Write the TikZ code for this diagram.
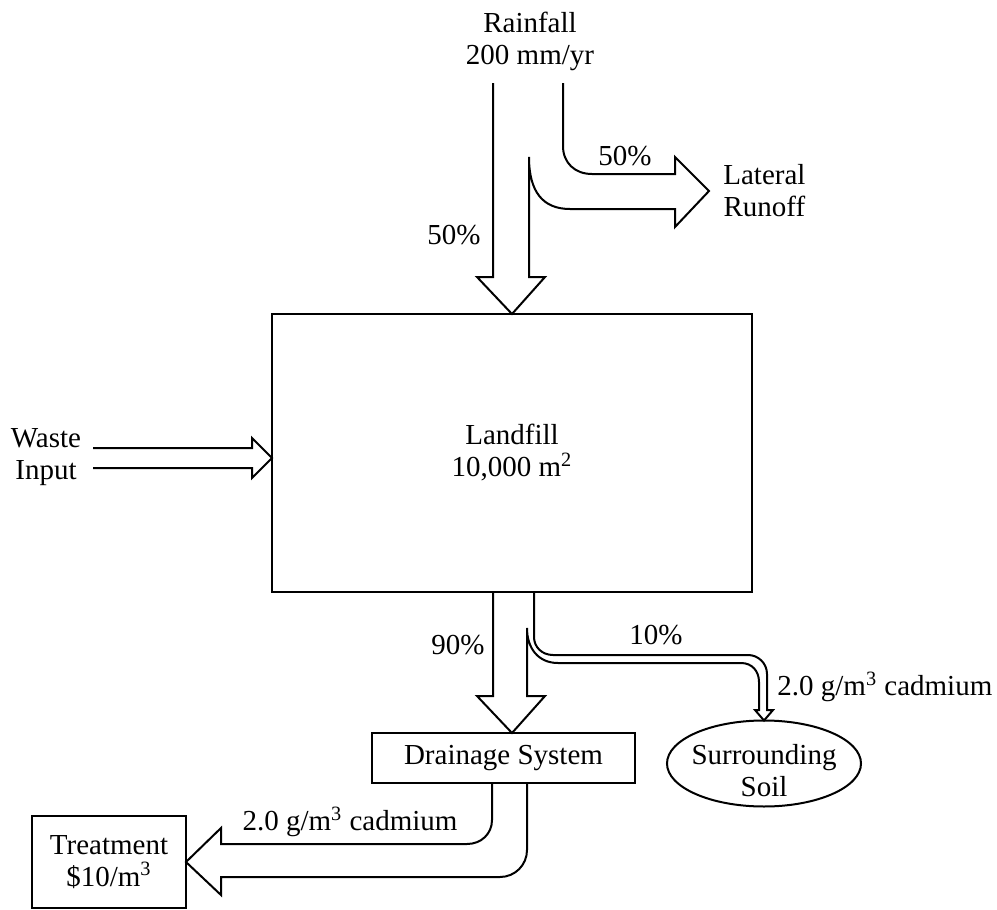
\documentclass[tikz,border=0pt]{standalone}
\usepackage{fontspec}
\setmainfont{Liberation Serif}
\usetikzlibrary{shapes.geometric,calc}
\begin{document}
\begin{tikzpicture}
  [x=0.5pt, y=-0.5pt,
  every node/.style={font=\fontsize{14.5}{16}\selectfont, align=center},
  lbl/.style={inner sep=0pt},
  box/.style={draw, line width=1pt, outer sep=0pt},
  flow/.style={line width=1pt, line join=miter}]
  \useasboundingbox (0,0) rectangle (997,910);
  % boxes
  \node[box, minimum width=240pt, minimum height=139pt] (landfill) at (512,453) {Landfill\\10,000 m\textsuperscript{2}};
  \node[box, minimum width=131.5pt, minimum height=25pt] (drain) at (503.5,758) {Drainage System};
  \node[box, minimum width=77pt, minimum height=46pt] (treat) at (109,862) {Treatment\\\$10/m\textsuperscript{3}};
  \node[box, ellipse, minimum width=97pt, minimum height=43pt,
    label={[lbl, yshift=-3.5pt]center:Surrounding\\Soil}] (soil) at (764,763.5) {};
  % texts
  \node[lbl] (rain) at (530,41) {Rainfall\\200 mm/yr};
  \node[lbl, anchor=west] (runoff) at (723,191) {Lateral\\Runoff};
  \node[lbl] (waste) at (46,457) {Waste\\Input};
  \node[lbl] (pctrun) at (625,156) {50\%};
  \node[lbl] (pctin) at (454,235) {50\%};
  \node[lbl] (pctdrain) at (458,645) {90\%};
  \node[lbl] (pctsoil) at (656,635) {10\%};
  \node[lbl, anchor=west] (cdsoil) at (777,687) {2.0 g/m\textsuperscript{3} cadmium};
  \node[lbl] (cdtreat) at (350,822) {2.0 g/m\textsuperscript{3} cadmium};
  % rainfall split
  \draw[flow] (493,83) -- (493,277) -- (477,277) -- (landfill.north) -- (545,277) -- (529,277) -- (529,157)
    .. controls (529,192) and (543,209) .. (570,209) -- (675,209) -- (675,227)
    -- ($(runoff.west)+(-14,0)$) -- (675,157) -- (675,174) -- (592,174)
    .. controls (575,174) and (563,163) .. (563,146) -- (563,83);
  % waste input
  \draw[flow] (93,448) -- (252,448) -- (252,438) -- ($(landfill.west)+(0,5)$) -- (252,478) -- (252,468) -- (93,468);
  % leachate out of landfill
  \draw[flow] (493,592) -- (493,696) -- (477,696) -- (landfill.south |- drain.north) -- (545,696) -- (527,696) -- (527,628)
    .. controls (527,648) and (538,663) .. (558,663) -- (741,663)
    .. controls (752,663) and (759,671) .. (759,682) -- (759,710) -- (755,710) -- (soil.north)
    -- (773,710) -- (767,710) -- (767,674) .. controls (767,663) and (758,655) .. (748,655) -- (553,655)
    .. controls (542,655) and (534,647) .. (534,637) -- (534,592);
  % drainage to treatment
  \draw[flow] (492,783) -- (492,820) .. controls (492,834) and (481,844) .. (467,844) -- (221,844) -- (221,828)
    -- (treat.east) -- (221,895) -- (221,877) -- (500,877) .. controls (515,877) and (527,865) .. (527,850) -- (527,783);
\end{tikzpicture}
\end{document}
